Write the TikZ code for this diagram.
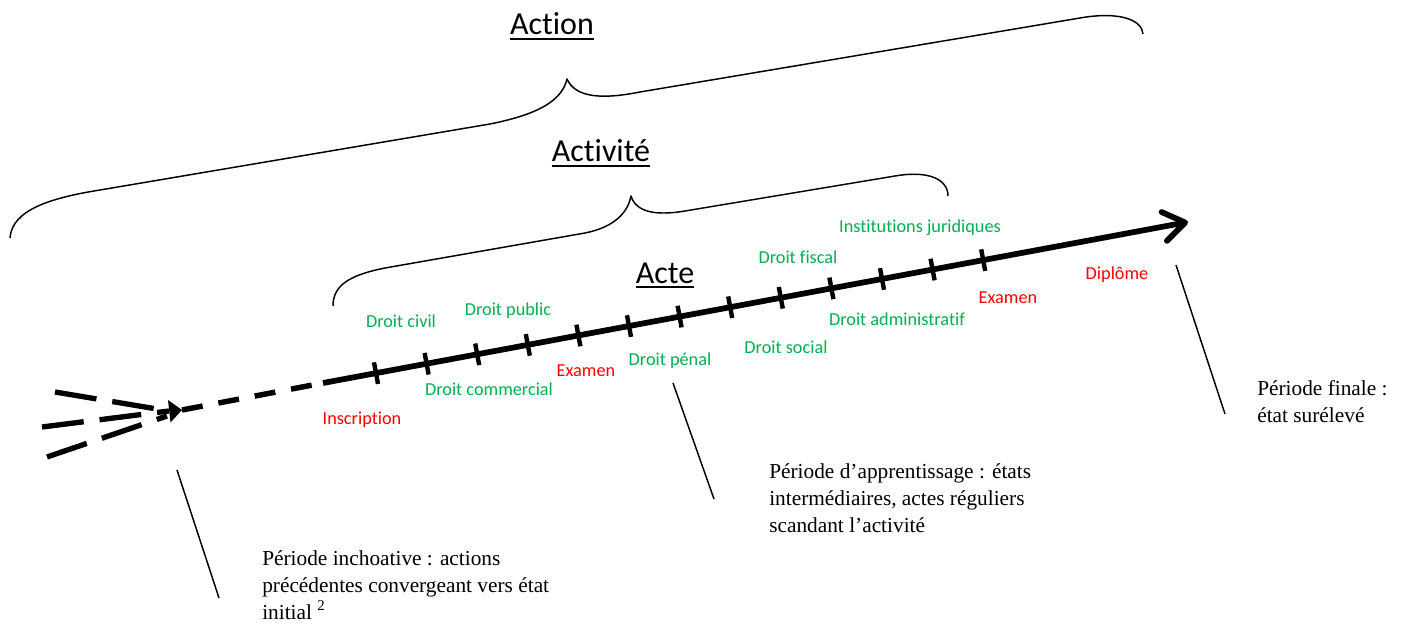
\documentclass[tikz,border=0pt]{standalone}
\usepackage{fontspec}
\setmainfont{Liberation Serif}
\newfontfamily\calib[Ligatures={NoCommon}]{Carlito}
\usetikzlibrary{calc,arrows.meta}
\definecolor{lgreen}{HTML}{00B050}
\definecolor{lred}{HTML}{FF0000}
\tikzset{
  lab/.style={font=\calib\fontsize{13.7}{16}\selectfont, inner sep=0pt, anchor=base},
  grn/.style={lab, text=lgreen},
  rd/.style={lab, text=lred},
  titlelab/.style={font=\calib\fontsize{24}{28}\selectfont, inner sep=0pt, anchor=base},
  uline/.style={line width=1.6pt},
  note/.style={font=\fontsize{16}{20.25}\selectfont, inner sep=0pt, anchor=base west},
  brace/.style={line width=1.1pt, line join=round},
  leader/.style={line width=1.1pt},
  axis/.style={line width=4.3pt},
  tickmark/.style={line width=3.3pt},
  dashaxis/.style={line width=4.1pt, dash pattern=on 15.75pt off 12pt},
  dashin/.style={line width=4pt, dash pattern=on 31.5pt off 12pt},
}
\begin{document}
\begin{tikzpicture}[x=0.75pt,y=-0.75pt]
\useasboundingbox (0,0) rectangle (1406,624);

% ---- braces ----
\draw[brace] (10,238) .. controls (12,210) and (50,198) .. (100,190)
  -- (490,124) .. controls (540,114) and (562,100) .. (567,79)
  .. controls (575,97) and (600,100) .. (640,92)
  -- (1080,18) .. controls (1120,11) and (1142,20) .. (1143,34);
\draw[brace] (333,306) .. controls (333,285) and (350,275) .. (385,268)
  -- (585,233) .. controls (615,227) and (628,212) .. (631,196)
  .. controls (636,212) and (655,216) .. (685,211)
  -- (895,176) .. controls (930,170) and (948,180) .. (948,196);

% ---- titles ----
\node[titlelab] (action) at (552,35) {Action};
\draw[uline] ([yshift=-3pt]action.base west) -- ([yshift=-3pt]action.base east);
\node[titlelab] (activite) at (601,162) {Activité};
\draw[uline] ([yshift=-3pt]activite.base west) -- ([yshift=-3pt]activite.base east);
\node[titlelab] (acte) at (665,283) {Acte};
\draw[uline] ([yshift=-3pt]acte.base west) -- ([yshift=-3pt]acte.base east);

% ---- axis ----
\coordinate (A) at (182,410);
\coordinate (B) at (169,411);
\coordinate (S) at (323,383);
\coordinate (T) at (1188,222);
\coordinate (c1) at (55,392);
\coordinate (c2) at (42,427);
\coordinate (c3) at (47,457);
\coordinate (b3) at (167,416);

\draw[dashin] (c1) -- (B);
\draw[dashin] (c2) -- (B);
\draw[dashin] (c3) -- (b3);
\fill (A) -- (168,400) -- (170.5,422.5) -- cycle;
\draw[dashaxis] (A) -- (S);
\draw[axis, -{Straight Barb[length=16pt,width=22pt,line cap=round,line join=round]}] (S) -- (T);

\foreach \k in {0,...,12} {
  \pgfmathsetmacro\p{(53+50.6*\k)/865}
  \path ($(S)!\p!(T)$) coordinate (tk\k);
  \draw[tickmark] ($(tk\k)+(-2.0,-10.8)$) -- ($(tk\k)+(2.0,10.8)$);
}

% ---- labels ----
\node[grn] (civil) at (401,327) {Droit civil};
\node[grn] (public) at (508,315) {Droit public};
\node[grn] (commercial) at (489,395) {Droit commercial};
\node[rd] (examen1) at (586,376) {Examen};
\node[grn] (penal) at (670,365) {Droit pénal};
\node[grn] (social) at (786,353) {Droit social};
\node[grn] (fiscal) at (798,263) {Droit fiscal};
\node[grn] (admin) at (897,325) {Droit administratif};
\node[grn] (instit) at (920,232) {Institutions juridiques};
\node[rd] (examen2) at (1008,303) {Examen};
\node[rd] (diplome) at (1117,279) {Diplôme};
\node[rd] (inscription) at (362,424) {Inscription};

% ---- leaders ----
\coordinate (l1a) at (177,470); \coordinate (l1b) at (219,598);
\coordinate (l2a) at (673,383); \coordinate (l2b) at (714,499);
\coordinate (l3a) at (1176,265); \coordinate (l3b) at (1225,414);
\draw[leader] (l1a) -- (l1b);
\draw[leader] (l2a) -- (l2b);
\draw[leader] (l3a) -- (l3b);

% ---- notes ----
\node[note] (n1) at (262,565) {\begin{tabular}[t]{@{}l@{}}Période inchoative : actions\\précédentes convergeant vers état\\initial \textsuperscript{2}\end{tabular}};
\node[note] (n2) at (769,478) {\begin{tabular}[t]{@{}l@{}}Période d’apprentissage : états\\intermédiaires, actes réguliers\\scandant l’activité\end{tabular}};
\node[note] (n3) at (1257,395) {\begin{tabular}[t]{@{}l@{}}Période finale :\\état surélevé\end{tabular}};
\end{tikzpicture}
\end{document}
